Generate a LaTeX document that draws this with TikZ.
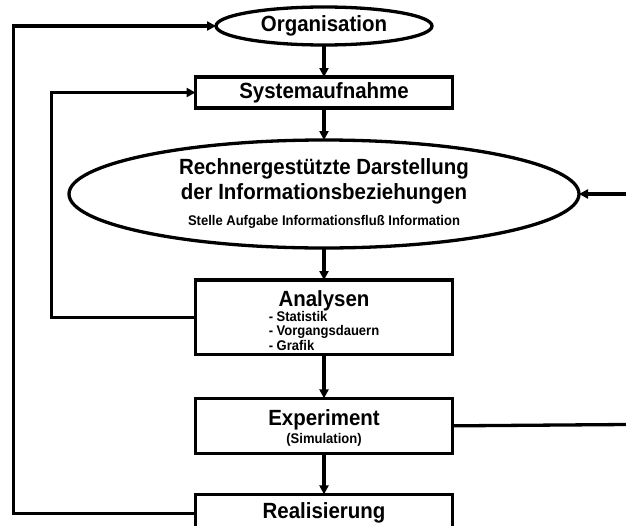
\documentclass[tikz,border=0pt]{standalone}
\usepackage{fontspec}
\setmainfont[FakeStretch=0.93]{Liberation Sans}
\usetikzlibrary{positioning, shapes.geometric, arrows.meta}
\newcommand{\subtext}{\fontsize{14}{14.5}\selectfont}

\begin{document}
\begin{tikzpicture}[
        x=1pt, y=-1pt,
        line width=3.3pt,
        >={Triangle[length=9pt,width=9pt]},
        every node/.style={font=\bfseries\fontsize{22}{25}\selectfont, outer sep=0pt},
        box/.style={draw, rectangle, minimum width=257pt, minimum height=31pt, inner sep=0pt, align=center},
        oval/.style={draw, ellipse, inner sep=0pt, align=center}
    ]
    \useasboundingbox (0,0) rectangle (626,525);
    \clip (0,0) rectangle (626,525);

    \node[oval, minimum width=216pt, minimum height=38pt] (org) at (324,26) {Organisation};
    \node[box, below=32pt of org] (sys) {Systemaufnahme};
    \node[oval, below=32pt of sys, minimum width=510pt, minimum height=108pt] (info)
        {Rechnergestützte Darstellung\\der Informationsbeziehungen\\[1pt]{\subtext Stelle Aufgabe Informationsfluß Information}};
    \node[box, below=32pt of info, minimum height=73pt] (ana)
        {\rule{0pt}{26pt}Analysen\\[-10pt]{\subtext\begin{tabular}[t]{@{}l@{}}- Statistik\\- Vorgangsdauern\\- Grafik\end{tabular}}};
    \node[box, below=44pt of ana, minimum height=55pt] (exp) {\rule{0pt}{20pt}Experiment\\[-7pt]{\subtext (Simulation)}};
    \node[box, below=41pt of exp, minimum height=38pt] (real) {Realisierung};

    \coordinate (feedin) at (626,194);
    \coordinate (feedout) at (626,424.5);

    \draw[->] (org) -- (sys);
    \draw[->] (sys) -- (info);
    \draw[->] (info) -- (ana);
    \draw[->] (ana) -- (exp);
    \draw[->] (exp) -- (real);

    \draw[->] (real.west) -- ++(-182,0) |- (org.west);
    \draw[->] (ana.west) -- ++(-144,0) |- (sys.west);

    \draw (exp.east) -- (feedout);
    \draw[->] (feedin) -- (info.east);

\end{tikzpicture}
\end{document}
